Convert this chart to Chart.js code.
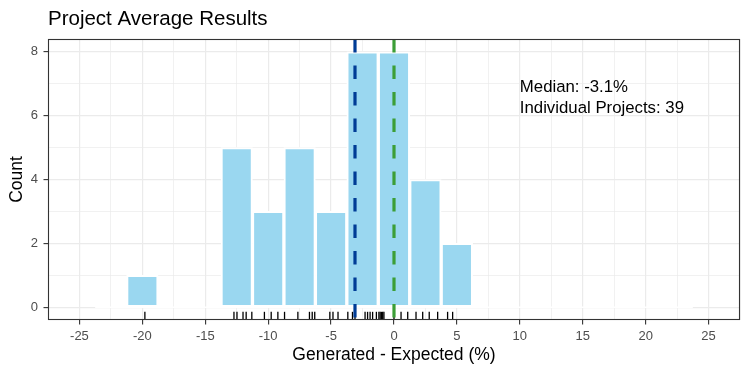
<!DOCTYPE html>
<html>
<head>
<meta charset="utf-8">
<script src="https://cdn.jsdelivr.net/npm/chart.js@4"></script>
<style>
  html, body { margin: 0; padding: 0; background: #fff; }
  #wrap { width: 750px; height: 375px; }
</style>
</head>
<body>
<div id="wrap"><canvas id="hist"></canvas></div>
<script>
// histogram bins (width 2.5) and their counts
const binCenters = [-22.5, -20, -17.5, -15, -12.5, -10, -7.5, -5, -2.5, 0, 2.5, 5, 7.5, 10, 12.5, 15, 17.5, 20, 22.5];
const binCounts  = [0, 1, 0, 0, 5, 3, 5, 3, 8, 8, 4, 2, 0, 0, 0, 0, 0, 0, 0];

// one value per project (rug marks)
const projectValues = [
  -19.8,
  -12.72, -12.48, -12.0, -11.75, -11.3,
  -10.3, -9.76, -9.23,
  -8.7, -7.64, -6.72, -6.5, -6.3,
  -5.1, -4.85, -4.45,
  -3.67, -3.3, -3.1, -2.3, -2.1, -1.9, -1.7, -1.4,
  -1.2, -1.1, -1.0, -0.9, -0.8, 0, 0.56, 1.09,
  1.75, 2.28, 2.8, 3.47,
  4.26, 4.66
];

const medianValue = -3.1;
const expectedValue = 0;

const xTickLabels = [-25, -20, -15, -10, -5, 0, 5, 10, 15, 20, 25];
const yTickLabels = [0, 2, 4, 6, 8];

const annotationX = 10;
const annotationYs = [6.9, 6.22];
const annotationLines = ['Median: -3.1%', 'Individual Projects: 39'];

const xMin = -27.5, xMax = 27.5;
const yMin = -0.4, yMax = 8.4;
const rugLevel = -0.275;

const FONT = '"Liberation Sans", Arial, sans-serif';
const halfBin = 1.25;

const isMajorX = c => !!(c && c.tick && xTickLabels.includes(c.tick.value));
const isMajorY = c => !!(c && c.tick && yTickLabels.includes(c.tick.value));

// draws the panel frame, title and the text labels
const extrasPlugin = {
  id: 'extras',
  afterDraw(chart) {
    const {ctx, chartArea, scales} = chart;
    ctx.save();
    ctx.strokeStyle = '#333333';
    ctx.lineWidth = 1.1;
    ctx.strokeRect(chartArea.left + 0.5, chartArea.top + 0.5, chartArea.width - 1, chartArea.height - 1);

    ctx.fillStyle = '#000';
    ctx.textBaseline = 'middle';
    ctx.textAlign = 'left';
    ctx.font = '20.5px ' + FONT;
    ctx.fillText('Project Average Results', chartArea.left, 19);

    ctx.font = '16.8px ' + FONT;
    annotationLines.forEach((txt, i) => {
      ctx.fillText(txt, scales.x.getPixelForValue(annotationX), scales.y.getPixelForValue(annotationYs[i]));
    });
    ctx.restore();
  }
};

new Chart(document.getElementById('hist'), {
  type: 'bar',
  data: {
    datasets: [
      {
        type: 'line',
        data: [{x: medianValue, y: yMax}, {x: medianValue, y: yMin}],
        borderColor: '#003c96',
        borderWidth: 3.2,
        borderDash: [13.5, 13],
        pointRadius: 0,
        order: 1
      },
      {
        type: 'line',
        data: [{x: expectedValue, y: yMax}, {x: expectedValue, y: yMin}],
        borderColor: '#3c9e37',
        borderWidth: 3.2,
        borderDash: [13.5, 13],
        pointRadius: 0,
        order: 2
      },
      {
        type: 'scatter',
        data: projectValues.map(v => ({x: v, y: rugLevel})),
        pointStyle: 'line',
        rotation: 90,
        radius: 4.2,
        borderColor: '#000',
        borderWidth: 1.3,
        order: 3
      },
      {
        data: binCenters.map((c, i) => ({x: c, y: binCounts[i]})),
        backgroundColor: '#9ad7f0',
        borderColor: '#ffffff',
        borderWidth: 2,
        borderSkipped: false,
        barPercentage: 1,
        categoryPercentage: 1,
        order: 4
      },
      {
        // outline of the empty bins along zero
        type: 'line',
        data: [{x: binCenters[0] - halfBin, y: 0}, {x: binCenters[binCenters.length - 1] + halfBin, y: 0}],
        borderColor: '#ffffff',
        borderWidth: 1.6,
        pointRadius: 0,
        order: 5
      }
    ]
  },
  options: {
    responsive: true,
    maintainAspectRatio: false,
    animation: false,
    events: [],
    layout: {
      padding: {top: 39, right: 10, left: 0, bottom: 0}
    },
    plugins: {
      legend: {display: false},
      tooltip: {enabled: false},
      title: {display: false}
    },
    scales: {
      x: {
        type: 'linear',
        min: xMin,
        max: xMax,
        offset: false,
        afterFit: s => { s.height = 55; },
        border: {display: false},
        grid: {
          offset: false,
          color: '#ebebeb',
          lineWidth: c => isMajorX(c) ? 1.2 : 0.7,
          tickColor: c => isMajorX(c) ? '#333333' : 'rgba(0,0,0,0)',
          tickWidth: 1.1,
          tickLength: 4.5
        },
        ticks: {
          stepSize: 2.5,
          includeBounds: false,
          autoSkip: false,
          maxRotation: 0,
          padding: 4,
          color: '#4d4d4d',
          font: {family: FONT, size: 13},
          callback: v => xTickLabels.includes(v) ? String(v) : ''
        },
        title: {
          display: true,
          text: 'Generated - Expected (%)',
          color: '#000',
          font: {family: FONT, size: 17.5},
          padding: {top: 2, bottom: 9}
        }
      },
      y: {
        min: yMin,
        max: yMax,
        afterFit: s => { s.width = 48; },
        border: {display: false},
        grid: {
          color: '#ebebeb',
          lineWidth: c => isMajorY(c) ? 1.2 : 0.7,
          tickColor: c => isMajorY(c) ? '#333333' : 'rgba(0,0,0,0)',
          tickWidth: 1.1,
          tickLength: 4.5
        },
        ticks: {
          stepSize: 1,
          includeBounds: false,
          autoSkip: false,
          padding: 5.5,
          color: '#4d4d4d',
          font: {family: FONT, size: 13},
          callback: v => yTickLabels.includes(v) ? String(v) : ''
        },
        title: {
          display: true,
          text: 'Count',
          color: '#000',
          font: {family: FONT, size: 17.5},
          padding: {top: 6.5, bottom: 0}
        }
      }
    }
  },
  plugins: [extrasPlugin]
});
</script>
</body>
</html>
